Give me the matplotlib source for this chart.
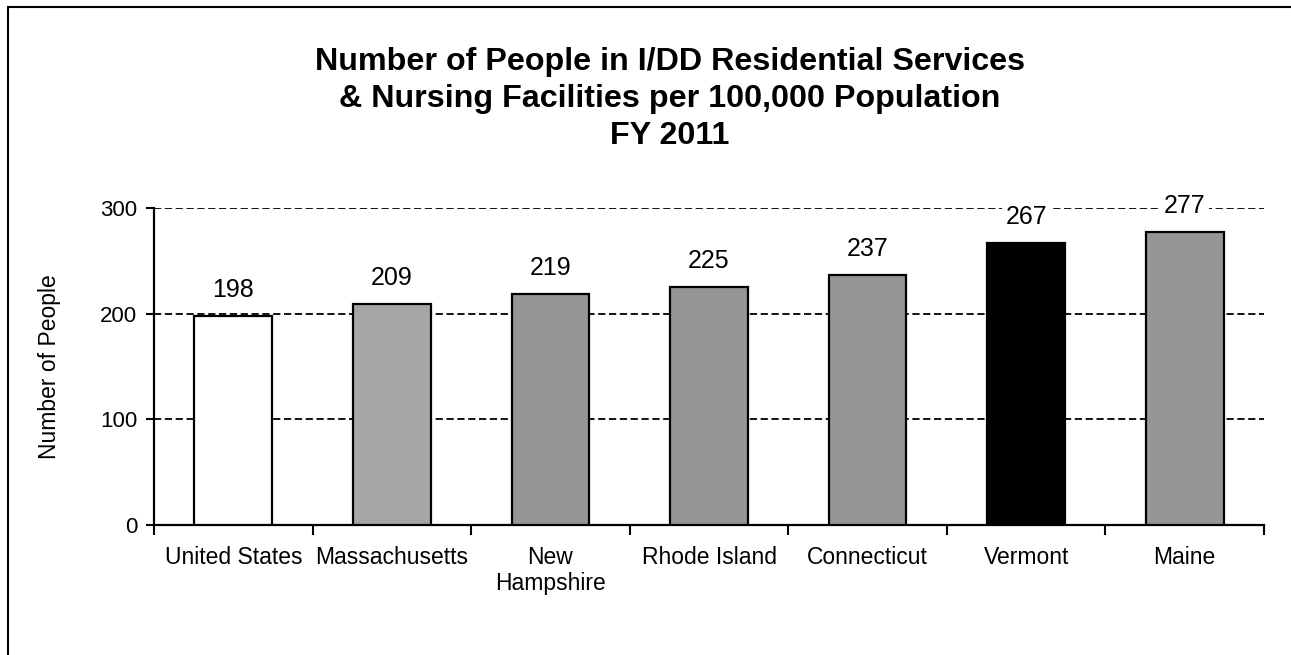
import matplotlib
matplotlib.use("Agg")
import matplotlib.pyplot as plt
from matplotlib.patches import Rectangle
from matplotlib.ticker import FixedLocator

plt.rcParams["font.family"] = ["Liberation Sans", "DejaVu Sans"]

# FY 2011 people in I/DD residential services & nursing facilities per 100k
states = ["United States", "Massachusetts", "New\nHampshire", "Rhode Island",
          "Connecticut", "Vermont", "Maine"]
people = [198, 209, 219, 225, 237, 267, 277]
bar_colors = ["#FFFFFF", "#A6A6A6", "#969696", "#969696", "#969696", "#000000", "#969696"]
y_ticks = [0, 100, 200, 300]

fig = plt.figure(figsize=(12.91, 6.55), dpi=100)
ax = fig.add_axes([154 / 1291, 1 - 525 / 655, (1264 - 154) / 1291, (525 - 208) / 655])

# outer frame around the whole chart
fig.patches.append(Rectangle((8 / 1291, -0.2), 1.2, 0.2 + 1 - 7 / 655,
                             transform=fig.transFigure, fill=False,
                             edgecolor="black", linewidth=1.5, clip_on=False))

x = list(range(len(states)))
bars = ax.bar(x, people, width=0.49, color=bar_colors, edgecolor="black",
              linewidth=1.6, zorder=3)

for b, v in zip(bars, people):
    ax.annotate(str(v), (b.get_x() + b.get_width() / 2, v),
                xytext=(0, 10), textcoords="offset points",
                ha="center", va="bottom", fontsize=18, zorder=4,
                bbox=dict(boxstyle="square,pad=0.15", facecolor="white", edgecolor="none"))

ax.set_xlim(-0.5, len(states) - 0.5)
ax.set_ylim(0, 300)
ax.set_yticks(y_ticks)
ax.set_xticks(x)
ax.set_xticklabels(states, fontsize=16.5, linespacing=1.2)
ax.xaxis.set_minor_locator(FixedLocator([i - 0.5 for i in range(len(states) + 1)]))
ax.tick_params(axis="x", which="major", length=0, pad=15)
ax.tick_params(axis="x", which="minor", length=7, width=1.5, direction="out")
ax.tick_params(axis="y", length=6, width=1.5, direction="out", labelsize=16, pad=6)

ax.grid(axis="y", color="black", linestyle=(0, (4, 2)), linewidth=1.3, zorder=0)
for s in ["top", "right"]:
    ax.spines[s].set_visible(False)
ax.spines["left"].set_linewidth(1.6)
ax.spines["bottom"].set_linewidth(1.6)

ax.set_ylabel("Number of People", fontsize=16.5, labelpad=28)

fig.text(0.519, 1 - 99 / 655,
         "Number of People in I/DD Residential Services\n"
         "& Nursing Facilities per 100,000 Population\nFY 2011",
         ha="center", va="center", fontsize=23.2, fontweight="bold", linespacing=1.32)

fig.savefig("out.png", dpi=100)
